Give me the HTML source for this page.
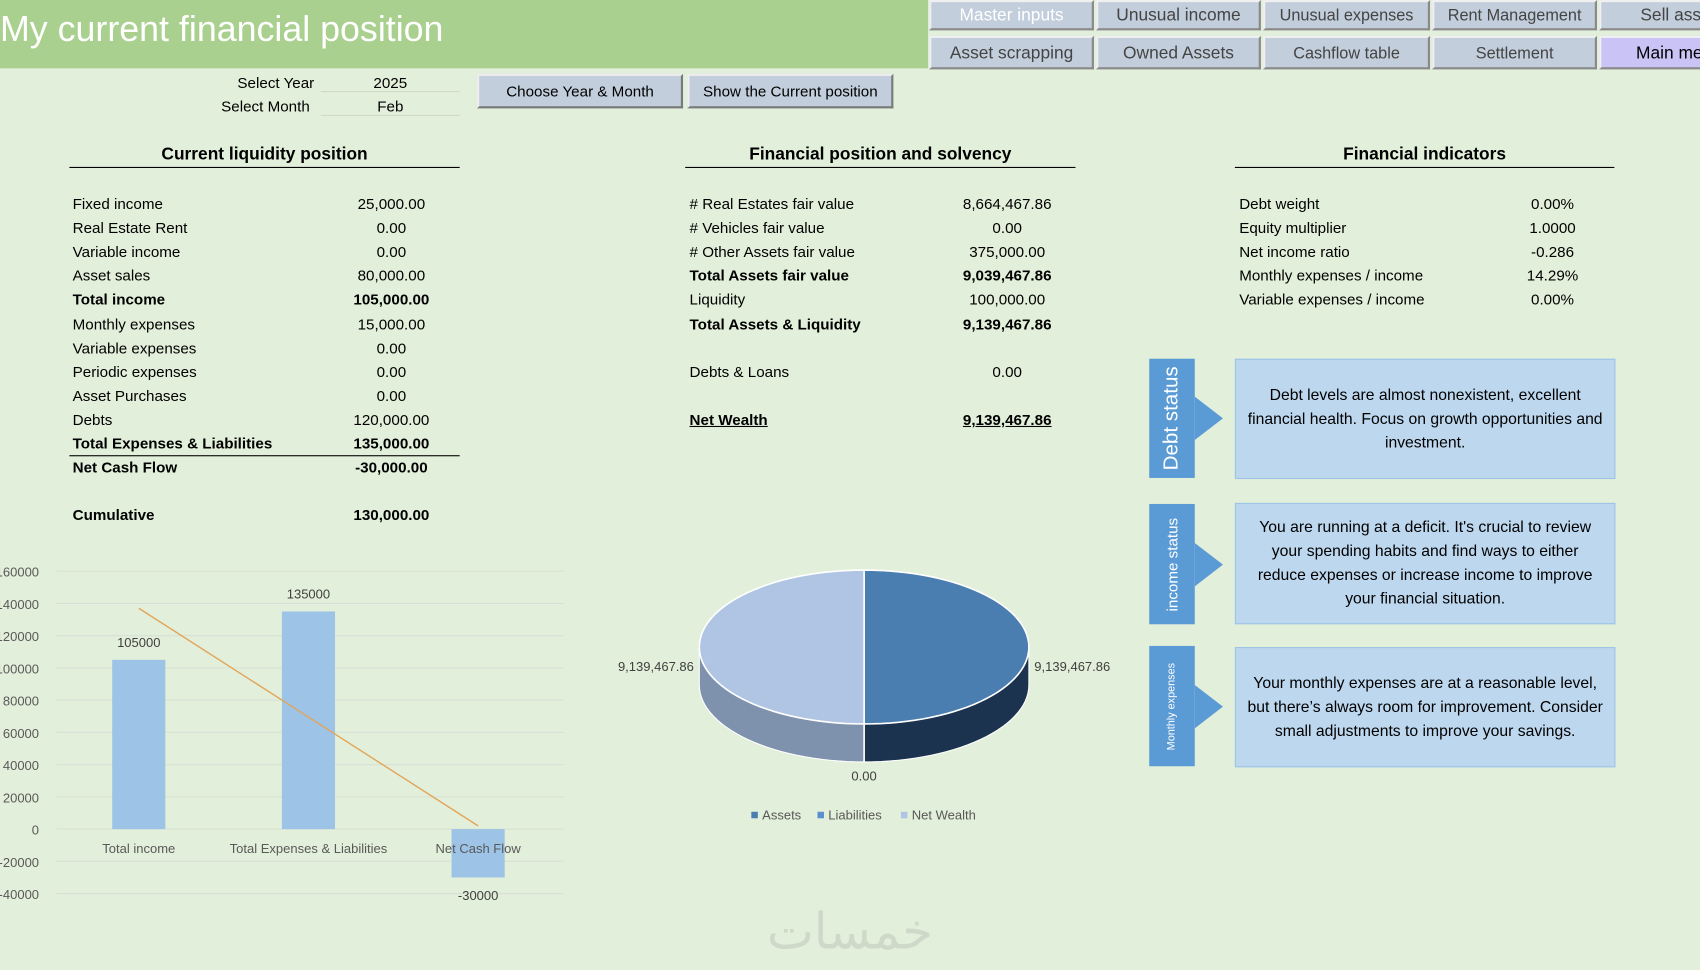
<!DOCTYPE html>
<html><head><meta charset="utf-8">
<style>
html,body{margin:0;padding:0;width:1700px;height:970px;overflow:hidden;background:#e2efda;}
#wrap{position:absolute;left:0;top:0;width:1568px;height:895px;transform-origin:0 0;transform:scale(1.08418,1.08380);font-family:"Liberation Sans",sans-serif;color:#000;}
.abs{position:absolute;}
#hdr{left:0;top:0;width:856px;height:63px;background:#a9d08e;}
#hdr span{position:absolute;left:0;top:8px;font-size:33px;color:#fff;}
.nav{position:absolute;height:28px;background:#c2cedb;border:2px solid #8a8a8a;border-top-color:#f0f0f0;border-left-color:#f0f0f0;box-sizing:border-box;font-size:16px;color:#444;text-align:center;line-height:26px;white-space:nowrap;overflow:hidden;}
.btn{position:absolute;height:32px;background:#c2cedb;border:2px solid #7a7a7a;border-top-color:#eee;border-left-color:#eee;box-sizing:border-box;font-size:14px;text-align:center;line-height:28px;}
.row{position:absolute;font-size:14px;white-space:nowrap;}
.b{font-weight:bold;}
.title{position:absolute;font-size:16px;font-weight:bold;text-align:center;border-bottom:1px solid #000;padding-bottom:2px;}
.box{position:absolute;background:#bdd7ee;border:1px solid #9dc3e6;box-sizing:border-box;font-size:14.5px;text-align:center;line-height:22px;display:flex;align-items:center;justify-content:center;padding:0 10px;}
.tag{position:absolute;background:#5b9bd5;color:#fff;}
.tag span{position:absolute;left:50%;top:50%;transform:translate(-50%,-50%) rotate(-90deg);white-space:nowrap;}
.tag:after{content:"";position:absolute;right:-26px;top:50%;margin-top:-20px;border-left:26px solid #5b9bd5;border-top:20px solid transparent;border-bottom:20px solid transparent;}
</style></head><body>
<div id="wrap">
<div id="hdr" class="abs"><span>My current financial position</span></div>
<div class="nav" style="left:857px;top:0;width:152px;color:#fff">Master inputs</div>
<div class="nav" style="left:1011px;top:0;width:152px">Unusual income</div>
<div class="nav" style="left:1165px;top:0;width:154px;font-size:15px">Unusual expenses</div>
<div class="nav" style="left:1321px;top:0;width:152px;font-size:15px">Rent Management</div>
<div class="nav" style="left:1475px;top:0;width:110px;text-align:left;padding-left:36px">Sell assets</div>
<div class="nav" style="left:857px;top:33px;width:152px;height:31px;line-height:29px">Asset scrapping</div>
<div class="nav" style="left:1011px;top:33px;width:152px;height:31px;line-height:29px">Owned Assets</div>
<div class="nav" style="left:1165px;top:33px;width:154px;height:31px;line-height:29px;font-size:15px">Cashflow table</div>
<div class="nav" style="left:1321px;top:33px;width:152px;height:31px;line-height:29px;font-size:15px">Settlement</div>
<div class="nav" style="left:1475px;top:33px;width:110px;height:31px;line-height:29px;background:#c9c4f5;color:#000;text-align:left;padding-left:32px">Main menu</div>

<div class="row" style="left:219px;top:68px">Select Year</div>
<div class="row" style="left:296px;top:68px;width:128px;text-align:center;border-bottom:1px solid #cfd8c8">2025</div>
<div class="row" style="left:204px;top:90px">Select Month</div>
<div class="row" style="left:296px;top:90px;width:128px;text-align:center;border-bottom:1px solid #cfd8c8">Feb</div>
<div class="btn" style="left:440px;top:68px;width:190px">Choose Year &amp; Month</div>
<div class="btn" style="left:634px;top:68px;width:190px">Show the Current position</div>

<div class="title" style="left:64px;top:134px;width:360px">Current liquidity position</div>
<div class="title" style="left:632px;top:134px;width:360px">Financial position and solvency</div>
<div class="title" style="left:1139px;top:134px;width:350px">Financial indicators</div>

<div id="liq"></div>
<div class="abs" style="left:64px;top:420px;width:360px;border-top:1px solid #000"></div>

<div class="tag" style="left:1060px;top:331px;width:42px;height:110px;font-size:19px"><span>Debt status</span></div>
<div class="box" style="left:1139px;top:331px;width:351px;height:111px">Debt levels are almost nonexistent, excellent financial health. Focus on growth opportunities and investment.</div>
<div class="tag" style="left:1060px;top:465px;width:42px;height:111px;font-size:14px"><span>income status</span></div>
<div class="box" style="left:1139px;top:464px;width:351px;height:112px">You are running at a deficit. It's crucial to review your spending habits and find ways to either reduce expenses or increase income to improve your financial situation.</div>
<div class="tag" style="left:1060px;top:596px;width:42px;height:111px;font-size:10px"><span>Monthly expenses</span></div>
<div class="box" style="left:1139px;top:597px;width:351px;height:111px">Your monthly expenses are at a reasonable level, but there’s always room for improvement. Consider small adjustments to improve your savings.</div>

<svg class="abs" style="left:0;top:0" width="1568" height="895" id="svg">
<text x="784" y="875" font-size="46" fill="#cfd9c9" text-anchor="middle" font-family="DejaVu Sans">خمسات</text>
</svg>
</div>
<script>
const liqLabels=["Fixed income","Real Estate Rent","Variable income","Asset sales","Total income","Monthly expenses","Variable expenses","Periodic expenses","Asset Purchases","Debts","Total Expenses & Liabilities","Net Cash Flow","","Cumulative"];
const liqValues=["25,000.00","0.00","0.00","80,000.00","105,000.00","15,000.00","0.00","0.00","0.00","120,000.00","135,000.00","-30,000.00","","130,000.00"];
const liqBold=[4,10,11,13];
const solLabels=["# Real Estates fair value","# Vehicles fair value","# Other Assets fair value","Total Assets fair value","Liquidity","Total Assets & Liquidity","","Debts & Loans","","Net Wealth"];
const solValues=["8,664,467.86","0.00","375,000.00","9,039,467.86","100,000.00","9,139,467.86","","0.00","","9,139,467.86"];
const solBold=[3,5,9];
const indLabels=["Debt weight","Equity multiplier","Net income ratio","Monthly expenses / income","Variable expenses / income"];
const indValues=["0.00%","1.0000","-0.286","14.29%","0.00%"];
const wrap=document.getElementById('wrap');
function table(labels,values,bold,lx,vx,name,under){
 labels.forEach((l,i)=>{ if(!l) return;
  const y=180+i*22.1;
  const a=document.createElement('div');a.className='row'+(bold.includes(i)?' b':'');a.style.left=lx+'px';a.style.top=y+'px';a.textContent=l;
  if(under&&i===labels.length-1)a.style.textDecoration='underline';
  
  
  wrap.appendChild(a);
  const v=document.createElement('div');v.className='row'+(bold.includes(i)?' b':'');v.style.left=(vx-150)+'px';v.style.width='150px';v.style.textAlign='center';v.style.top=y+'px';v.textContent=values[i];
  if(under&&i===labels.length-1)v.style.textDecoration='underline';
  
  
  wrap.appendChild(v);
 });
}
table(liqLabels,liqValues,liqBold,67,436,'liquidity',false);
table(solLabels,solValues,solBold,636,1004,'solvency',true);
table(indLabels,indValues,[],1143,1507,'indicator',false);

// bar chart
const barCats=["Total income","Total Expenses & Liabilities","Net Cash Flow"];
const barVals=[105000,135000,-30000];
const trendVals=[137000,69500,2000];
const yTicks=[160000,140000,120000,100000,80000,60000,40000,20000,0,-20000,-40000];
const svg=document.getElementById('svg');const NS='http://www.w3.org/2000/svg';
function el(t,at){const e=document.createElementNS(NS,t);for(const k in at)e.setAttribute(k,at[k]);svg.appendChild(e);return e;}
const y=v=>765-v*(238/160000);const x=i=>128+i*156.5;
yTicks.forEach(t=>{const g=el('line',{x1:52,x2:520,y1:y(t),y2:y(t),stroke:'#d9dfd6','stroke-width':1});
 
 const tx=el('text',{x:36,y:y(t)+5,'font-size':12,fill:'#595959','text-anchor':'end'});tx.textContent=t;
 });
barVals.forEach((v,i)=>{const r=el('rect',{x:x(i)-24.5,y:Math.min(y(v),y(0)),width:49,height:Math.abs(y(v)-y(0)),fill:'#9dc3e6'});
 
 const t=el('text',{x:x(i),y:v>=0?y(v)-12:y(v)+21,'font-size':12,fill:'#404040','text-anchor':'middle'});t.textContent=v;
 
 const c=el('text',{x:x(i),y:787,'font-size':12,fill:'#595959','text-anchor':'middle'});c.textContent=barCats[i];
 });
const pl=el('polyline',{points:trendVals.map((v,i)=>x(i)+','+y(v)).join(' '),fill:'none',stroke:'#e2a55a','stroke-width':1.3});


// pie chart
const pieCats=["Assets","Liabilities","Net Wealth"];
const pieVals=[9139467.86,0,9139467.86];
const pieLabels=["9,139,467.86","0.00","9,139,467.86"];
const pieTop=['#4a7eb0','#5b8fd0','#b0c4e4'];
const pieSide=['#1c3350','#2a4a70','#7f92ad'];
const cx=797,cy=597,rx=152,ry=71,dep=35;
const tot=pieVals.reduce((a,b)=>a+b,0);
let ang=-Math.PI/2;
const pt=(a,dy)=>[cx+rx*Math.cos(a),cy+ry*Math.sin(a)+(dy||0)];
const sl=[];
pieVals.forEach((v,i)=>{const a2=ang+v/tot*2*Math.PI;sl.push([ang,a2]);ang=a2;});
// sides (front half only)
sl.forEach(([a1,a2],i)=>{const s=Math.max(a1,0),e=Math.min(a2,Math.PI);
 const s2=Math.max(a1-2*Math.PI,0),e2=Math.min(a2-2*Math.PI,Math.PI);
 [[s,e],[s2,e2]].forEach(([p,q])=>{if(q<=p)return;const n=30;let d='';
  for(let k=0;k<=n;k++){const a=p+(q-p)*k/n;const P=pt(a);d+=(k?'L':'M')+P[0]+','+P[1];}
  for(let k=n;k>=0;k--){const a=p+(q-p)*k/n;const P=pt(a,dep);d+='L'+P[0]+','+P[1];}
  const e=el('path',{d:d+'Z',fill:pieSide[i],stroke:'#fff','stroke-width':1});
  });});
const bl=el('line',{x1:cx,y1:cy+ry,x2:cx,y2:cy+ry+dep,stroke:'#fff','stroke-width':1.5});
sl.forEach(([a1,a2],i)=>{if(a2-a1<=0)return;const n=60;let d='M'+cx+','+cy;
 for(let k=0;k<=n;k++){const a=a1+(a2-a1)*k/n;const P=pt(a);d+='L'+P[0]+','+P[1];}
 const e=el('path',{d:d+'Z',fill:pieTop[i],stroke:'#fff','stroke-width':1.5});
 
 const m=(a1+a2)/2;const lx=cx+(Math.cos(m)>0?157:-157);
 const t=el('text',{x:lx,y:cy+22,'font-size':12,fill:'#404040','text-anchor':Math.cos(m)>0?'start':'end'});t.textContent=pieLabels[i];
 });
pieVals.forEach((v,i)=>{if(v===0){const t=el('text',{x:cx,y:cy+ry+dep+17,'font-size':12,fill:'#404040','text-anchor':'middle'});t.textContent=pieLabels[i];
 }});
const lgx=[693,754,831];
pieCats.forEach((c,i)=>{const r=el('rect',{x:lgx[i],y:749,width:6,height:6,fill:pieTop[i]});
 
 const t=el('text',{x:lgx[i]+10,y:756,'font-size':12,fill:'#595959'});t.textContent=c;
 });
</script>
</body></html>
